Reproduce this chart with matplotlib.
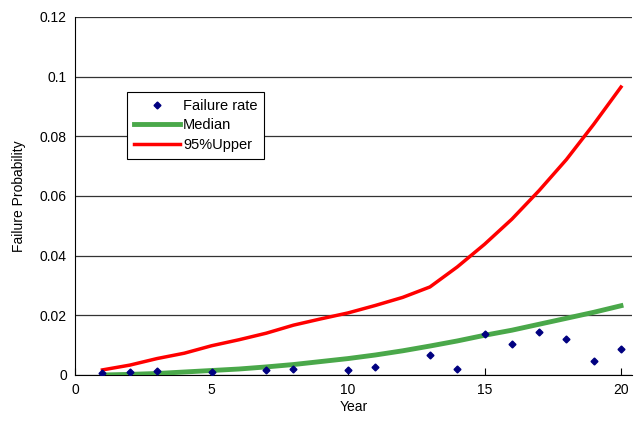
import matplotlib
matplotlib.use("Agg")
import matplotlib.pyplot as plt

plt.rcParams['font.family'] = ['Liberation Sans', 'DejaVu Sans']

# data
years = list(range(1, 21))
rate_years = [1, 2, 3, 5, 7, 8, 10, 11, 13, 14, 15, 16, 17, 18, 19, 20]
failure_rate = [0.0006, 0.0009, 0.0013, 0.0010, 0.0016, 0.0020, 0.0017, 0.0028,
                0.0067, 0.0020, 0.0137, 0.0104, 0.0145, 0.0119, 0.0046, 0.0086]
median = [0.0, 0.0002, 0.0005, 0.0010, 0.0015, 0.0020, 0.0027, 0.0035, 0.0045, 0.0055,
          0.0067, 0.0081, 0.0097, 0.0114, 0.0133, 0.0150, 0.0170, 0.0190, 0.0210, 0.0232]
upper95 = [0.0017, 0.0033, 0.0055, 0.0073, 0.0098, 0.0118, 0.0140, 0.0167, 0.0188, 0.0208,
           0.0233, 0.0260, 0.0295, 0.0362, 0.0438, 0.0522, 0.0618, 0.0722, 0.0840, 0.0965]

fig = plt.figure(figsize=(6.37, 4.33), dpi=100)
ax = fig.add_axes([0.118, 0.134, 0.874, 0.827])

ax.plot(rate_years, failure_rate, 'D', color='#000080', markersize=3.5, label='Failure rate', zorder=4)
ax.plot(years, median, color='#4aa84a', linewidth=3.5, label='Median', zorder=3)
ax.plot(years, upper95, color='#ff0000', linewidth=2.5, label='95%Upper', zorder=3)

ax.set_xlim(0, 20.4)
ax.set_ylim(0, 0.12)
ax.set_xticks([0, 5, 10, 15, 20])
ax.set_yticks([0, 0.02, 0.04, 0.06, 0.08, 0.1, 0.12])
ax.set_yticklabels(['0', '0.02', '0.04', '0.06', '0.08', '0.1', '0.12'])
ax.yaxis.grid(True, color='#333333', linewidth=0.9)
ax.set_axisbelow(True)
for s in ['top', 'right']:
    ax.spines[s].set_visible(False)
ax.tick_params(axis='x', direction='in', length=5, labelsize=10, pad=6)
ax.tick_params(axis='y', length=0, labelsize=10, pad=6)

ax.set_xlabel('Year', fontsize=10, labelpad=2)
ax.set_ylabel('Failure Probability', fontsize=10, labelpad=10)

leg = ax.legend(loc='upper left', bbox_to_anchor=(0.093, 0.79), fontsize=10.5,
                frameon=True, fancybox=False, edgecolor='black', framealpha=1,
                handlelength=3.2, handletextpad=0.2, borderpad=0.45, labelspacing=0.4,
                borderaxespad=0)
leg.get_frame().set_linewidth(0.8)

fig.savefig('out.png', dpi=100)
